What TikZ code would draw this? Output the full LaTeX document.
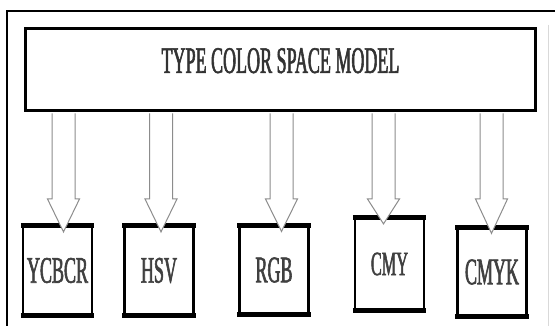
\documentclass[tikz,border=0pt]{standalone}
\usepackage{fontspec}
\newfontfamily\condserif{Liberation Serif}[FakeStretch=0.48, FakeBold=1.5]
\usetikzlibrary{calc}

\begin{document}
\begin{tikzpicture}[x=1pt, y=-1pt,
  modelbox/.style={draw, line width=3pt, minimum width=510pt, minimum height=82pt,
                   inner sep=0pt, text=black!80, font=\condserif\fontsize{37.5}{40}\selectfont},
  spacebox/.style={draw, line width=2.2pt, minimum width=69pt, minimum height=87pt,
                   inner sep=0pt, text=black!75, font=\condserif\fontsize{37.5}{40}\selectfont},
  capline/.style={line width=5pt},
  hollow/.style={draw=black!45, fill=white, line width=1pt, line join=miter}]

\useasboundingbox (0,0) rectangle (555,326);

% =============== FRAME ===============
\draw[line width=1.5pt] (555,11) -- (7,11) -- (7,326);
\draw[black!15, line width=1pt] (548,25) -- (548,326);

% =============== MODEL BOX ===============
\node[modelbox, text depth=18pt] (model) at (280.5,69.5) {TYPE COLOR SPACE MODEL};

% =============== COLOR SPACES ===============
\node[spacebox] (ycbcr) at (57.5,270.5) {YCBCR};
\node[spacebox] (hsv) at (159,270.5) {HSV};
\node[spacebox] (rgb) at (274,270) {RGB};
\node[spacebox, minimum height=90pt, font=\condserif\fontsize{34}{36}\selectfont] (cmy) at (389.5,264) {CMY};
\node[spacebox] (cmyk) at (492,272) {CMYK};

% heavy top and bottom edges
\foreach \n in {ycbcr,hsv,rgb,cmy,cmyk}{
  \draw[capline] ([xshift=-1.1pt]\n.north west) -- ([xshift=1.1pt]\n.north east);
  \draw[capline] ([xshift=-1.1pt]\n.south west) -- ([xshift=1.1pt]\n.south east);
}

% hollow block arrows
\foreach \n/\x in {ycbcr/63.5, hsv/161, rgb/281.5, cmy/383.5, cmyk/491.5}{
  \draw[hollow] ($(\x-11.5,0 |- model.south)+(0,1.5)$) -- (\x-11.5,199) -- (\x-16,199)
    -- ($(\x,0 |- \n.north)+(0,6)$) -- (\x+16,199) -- (\x+11.5,199)
    -- ($(\x+11.5,0 |- model.south)+(0,1.5)$);
}

\end{tikzpicture}
\end{document}
